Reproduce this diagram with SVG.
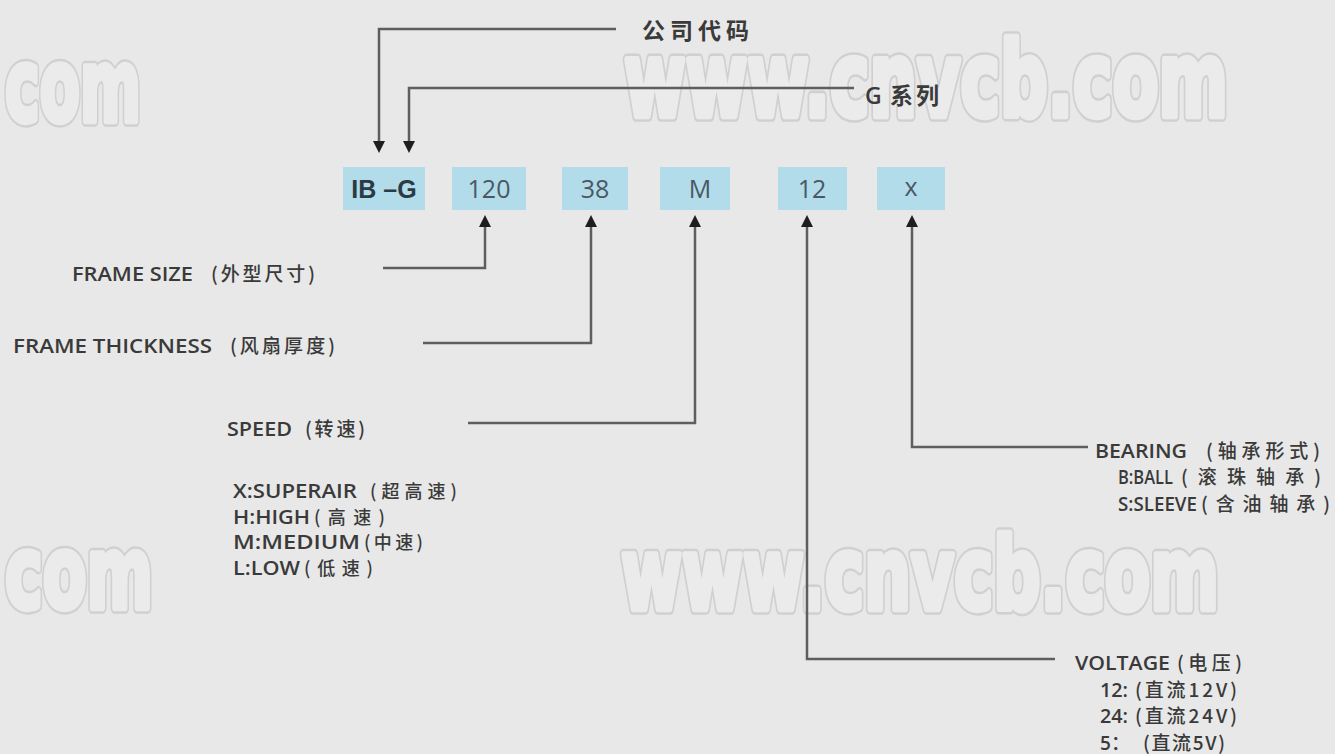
<svg xmlns="http://www.w3.org/2000/svg" width="1335" height="754" viewBox="0 0 1335 754">
<defs>
<marker id="ah" viewBox="0 0 12 12" markerWidth="12" markerHeight="12" refX="0" refY="6" orient="auto" markerUnits="userSpaceOnUse">
<path d="M0,0 L12,6 L0,12 z" fill="#1e1e1e"/>
</marker>
<style>
.wt{font-family:"DejaVu Sans","Liberation Sans",sans-serif;font-weight:bold;font-size:80px;stroke-linejoin:round}
.wo{fill:#d0d0d0;stroke:#d0d0d0;stroke-width:9}
.wi{fill:#ebebeb;stroke:#ebebeb;stroke-width:5}
.box{fill:#b2dcea}
.bt{font-family:"Open Sans","Liberation Sans",sans-serif;font-size:25px;fill:#4a5863;text-anchor:middle}
.bt.b{font-family:"Liberation Sans",sans-serif;font-weight:bold;fill:#2c3a44}
.ln{fill:none;stroke:#5e5e5e;stroke-width:2.5}
.lb{font-family:"Open Sans","Noto Sans CJK SC",sans-serif;font-size:19px;font-weight:600;fill:#3a3a3a}
.cj{font-family:"Noto Sans CJK SC",sans-serif;font-size:19px;font-weight:500}
.cs{font-size:18px}
.cb{font-size:19px}
.tt{font-family:"Noto Sans CJK SC",sans-serif;font-size:23px;font-weight:bold;fill:#3a3a3a}
</style>
<text id="w1" class="wt" transform="translate(624,116) scale(1,1.3)" textLength="604" lengthAdjust="spacingAndGlyphs">www.cnvcb.com</text>
<text id="w2" class="wt" transform="translate(621,609) scale(1,1.25)" textLength="598" lengthAdjust="spacingAndGlyphs">www.cnvcb.com</text>
<text id="w3" class="wt" transform="translate(5,121) scale(1,1.25)" textLength="136" lengthAdjust="spacingAndGlyphs">com</text>
<text id="w4" class="wt" transform="translate(5,608) scale(1,1.25)" textLength="148" lengthAdjust="spacingAndGlyphs">com</text>
</defs>
<rect x="0" y="0" width="1335" height="754" fill="#e8e8e8"/>
<g id="watermarks">
<use href="#w1" class="wo"/><use href="#w1" class="wi"/>
<use href="#w2" class="wo"/><use href="#w2" class="wi"/>
<use href="#w3" class="wo"/><use href="#w3" class="wi"/>
<use href="#w4" class="wo"/><use href="#w4" class="wi"/>
</g>
<g id="connectors">
<polyline class="ln" points="616,29 379,29 379,141" marker-end="url(#ah)"/>
<polyline class="ln" points="854,88 409,88 409,141" marker-end="url(#ah)"/>
<polyline class="ln" points="383,268 485,268 485,227" marker-end="url(#ah)"/>
<polyline class="ln" points="423,343 591,343 591,227" marker-end="url(#ah)"/>
<polyline class="ln" points="468,423 695,423 695,227" marker-end="url(#ah)"/>
<polyline class="ln" points="1055,659 807,659 807,227" marker-end="url(#ah)"/>
<polyline class="ln" points="1088,447 912,447 912,227" marker-end="url(#ah)"/>
</g>
<g id="title-company"><text class="tt" x="642" y="39" letter-spacing="5">公司代码</text></g>
<g id="title-series"><text class="tt" x="865" y="104"><tspan font-family="Open Sans, sans-serif" font-weight="600">G</tspan><tspan x="890" letter-spacing="3">系列</tspan></text></g>
<g id="box-ibg"><rect class="box" x="343" y="167" width="82" height="43"/><text class="bt b" x="384" y="198" font-size="24">IB –G</text></g>
<g id="box-120"><rect class="box" x="452" y="167" width="74" height="43"/><text class="bt" x="489" y="198">120</text></g>
<g id="box-38"><rect class="box" x="562" y="167" width="66" height="43"/><text class="bt" x="595" y="198">38</text></g>
<g id="box-m"><rect class="box" x="660" y="167" width="70" height="43"/><text class="bt" x="700" y="198">M</text></g>
<g id="box-12"><rect class="box" x="778" y="167" width="69" height="43"/><text class="bt" x="812" y="198">12</text></g>
<g id="box-x"><rect class="box" x="877" y="167" width="68" height="43"/><text class="bt" x="911" y="196">x</text></g>
<g id="lbl-frame-size"><text class="lb" x="72" y="281"><tspan textLength="121" lengthAdjust="spacingAndGlyphs">FRAME SIZE</tspan><tspan class="cj" x="211" textLength="104" lengthAdjust="spacing">(外型尺寸)</tspan></text></g>
<g id="lbl-frame-thickness"><text class="lb" x="13" y="353"><tspan textLength="199" lengthAdjust="spacingAndGlyphs">FRAME THICKNESS</tspan><tspan class="cj" x="230" textLength="105" lengthAdjust="spacing">(风扇厚度)</tspan></text></g>
<g id="lbl-speed">
<text class="lb" x="227" y="436"><tspan textLength="65" lengthAdjust="spacingAndGlyphs">SPEED</tspan><tspan class="cj" x="305" textLength="60" lengthAdjust="spacing">(转速)</tspan></text>
<text class="lb" x="233" y="498"><tspan textLength="124" lengthAdjust="spacingAndGlyphs">X:SUPERAIR</tspan><tspan class="cj cs" x="370" textLength="87" lengthAdjust="spacing">(超高速)</tspan></text>
<text class="lb" x="233" y="524"><tspan textLength="77" lengthAdjust="spacingAndGlyphs">H:HIGH</tspan><tspan class="cj cs" x="314" textLength="71" lengthAdjust="spacing">(高速)</tspan></text>
<text class="lb" x="233" y="549"><tspan textLength="127" lengthAdjust="spacingAndGlyphs">M:MEDIUM</tspan><tspan class="cj cs" x="364" textLength="59" lengthAdjust="spacing">(中速)</tspan></text>
<text class="lb" x="233" y="575"><tspan textLength="67" lengthAdjust="spacingAndGlyphs">L:LOW</tspan><tspan class="cj cs" x="304" textLength="69" lengthAdjust="spacing">(低速)</tspan></text>
</g>
<g id="lbl-bearing">
<text class="lb" x="1095" y="458"><tspan textLength="92" lengthAdjust="spacingAndGlyphs">BEARING</tspan><tspan class="cj cb" x="1206" textLength="114" lengthAdjust="spacing">(轴承形式)</tspan></text>
<text class="lb" x="1118" y="484"><tspan textLength="55" lengthAdjust="spacingAndGlyphs">B:BALL</tspan><tspan class="cj cb" x="1181" textLength="140" lengthAdjust="spacing">(滚珠轴承)</tspan></text>
<text class="lb" x="1118" y="511"><tspan textLength="79" lengthAdjust="spacingAndGlyphs">S:SLEEVE</tspan><tspan class="cj cb" x="1201" textLength="129" lengthAdjust="spacing">(含油轴承)</tspan></text>
</g>
<g id="lbl-voltage">
<text class="lb" x="1075" y="670"><tspan textLength="95" lengthAdjust="spacingAndGlyphs">VOLTAGE</tspan><tspan class="cj" x="1177" textLength="65" lengthAdjust="spacing">(电压)</tspan></text>
<text class="lb" x="1100" y="697"><tspan textLength="28" lengthAdjust="spacingAndGlyphs">12:</tspan><tspan class="cj" x="1135" textLength="102" lengthAdjust="spacing">(直流12V)</tspan></text>
<text class="lb" x="1100" y="723"><tspan textLength="28" lengthAdjust="spacingAndGlyphs">24:</tspan><tspan class="cj" x="1135" textLength="102" lengthAdjust="spacing">(直流24V)</tspan></text>
<text class="lb" x="1100" y="750">5<tspan class="cj">：</tspan><tspan class="cj" x="1143" textLength="82" lengthAdjust="spacing">(直流5V)</tspan></text>
</g>
</svg>
